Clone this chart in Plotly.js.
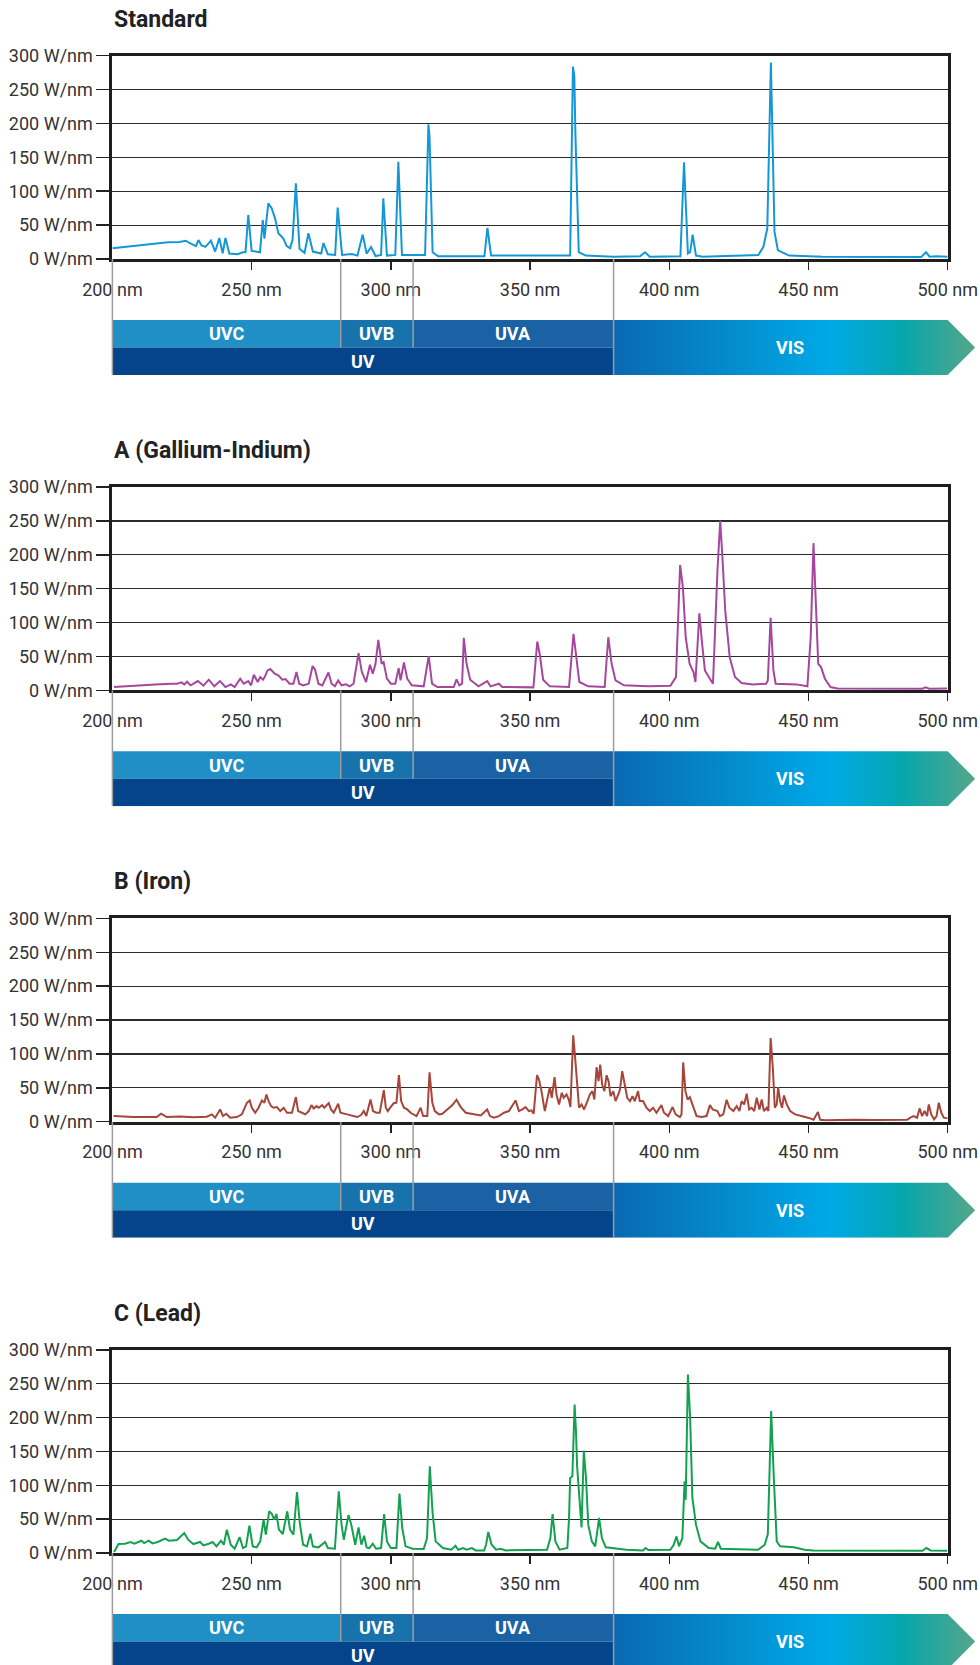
<!DOCTYPE html>
<html>
<head>
<meta charset="utf-8">
<script src="https://cdn.plot.ly/plotly-3.0.1.min.js"></script>
<style>
  html, body { margin: 0; padding: 0; background: #ffffff; }
  #chart { width: 980px; height: 1665px; }
</style>
</head>
<body>
<div id="chart"></div>
<script>
// ---------------- DATA ----------------
const panelTitles = ["Standard", "A (Gallium-Indium)", "B (Iron)", "C (Lead)"];
const xTickVals = [200, 250, 300, 350, 400, 450, 500];
const yTickVals = [0, 50, 100, 150, 200, 250, 300];
const xUnit = " nm";
const yUnit = " W/nm";

const bandNames = ["UVC", "UVB", "UVA"];
const bandEdges = [200, 282, 308, 380];
const uvRange = [200, 380];
const visRange = [380, 500];

const stdNm = [200,205,210,215,220,224,226.4,227.5,230,230.9,232,233.4,235.4,236.9,238.4,239.6,240.6,242,245,246.8,247.8,248.8,250,253,254,254.6,256,257.2,258.4,259.6,261.4,262.6,263.8,264.7,265.9,267.2,269,270.4,272,275,275.8,277.4,280,280.9,282.5,286,288,289.9,291.3,292.9,294.5,296.5,297.3,298.6,301.6,302.7,304,312.3,313.5,313.9,315,317,333.6,334.7,336,364.4,365.4,365.9,366.3,367.5,370,379.9,389.5,391.3,393,404,405.3,406.7,407.5,408.4,409.6,412,432,433.8,435.2,436.5,437.8,439,443,455,490.5,492.2,493.5,496,500];
const stdW  = [16,18,20.5,23,24.6,25,27,24,19,28,20,18,27,11,31,8.3,31,8,7,10,10,65,12,10,57.5,30,82,75,60,38,30,19,16,28,111.7,15,9,38,11,8,23.6,7,6,76,6,7.5,5,36,8,17.7,4.4,6,89.6,5,6,143.6,6,6,198.7,180,10,4,4,46,5,5,284,270,183,10,5,3.5,4,10,3.5,4,142.7,8,10,36,5,3.5,6,18,45,290,40,13,5,3.5,3,10,3.5,4,3.5];

const gaNm = [200.6,207.5,215.4,221.3,223.2,224.8,225.8,226.8,228.1,230.7,232.7,234.6,236.6,238.6,240.6,242.5,243.9,245.9,247.2,248.8,249.8,250.8,252.2,253.1,254.1,254.7,255.7,256.7,258.3,259.6,261.0,262.2,263.6,265.0,266.1,267.1,268.5,270.5,271.9,272.8,274.0,275.4,276.4,277.6,278.7,279.9,281.1,282.3,283.9,285.2,286.6,288.4,289.6,291.1,292.5,293.5,294.5,295.5,296.7,297.4,298.6,300.0,301.6,302.8,303.5,304.7,305.9,307.5,311.8,313.6,314.8,316.7,322.6,323.6,324.6,325.6,326.2,327.2,328.5,331.5,334.6,335.8,338.8,340.0,351.2,352.6,353.5,354.7,357.1,364.0,365.6,366.5,367.7,370.9,376.8,378.1,379.3,380.7,383.7,392.5,400.4,402.4,403.9,404.9,405.9,407.3,408.7,409.4,410.8,411.8,412.8,414.2,415.7,417.3,418.3,419.1,420.1,421.7,423.6,426.0,429.9,434.8,435.4,436.4,437.4,438.2,445.7,449.6,450.8,451.8,452.8,453.5,454.5,455.9,457.9,460.4,490.9,492.1,493.3,499.8];
const gaW  = [4.9,6.9,8.8,9.8,9.8,11.8,8.8,12.7,7.4,13.7,6.9,15.7,5.9,13.7,4.9,8.8,4.9,17.2,9.8,13.7,7.4,23,12.3,19.6,15.7,19.6,29.4,31.4,24.5,22,15.7,16.7,9.8,9.8,27,9.8,7.4,9.8,35.8,30.4,9.8,7.4,15.7,26.5,9.8,5.9,14.7,7.4,8.8,5.9,9.8,54.9,27,12.3,37.7,24.5,39.2,74.5,39.2,41.7,17.2,9.8,9.8,32.8,14.7,41.2,17.2,7.4,5.9,50.5,9.8,4.9,4.9,16.2,7.4,9.8,77.5,39.2,15.7,5.9,13.7,5.9,9.8,4.9,4.4,72,52.9,15.7,5.9,4.9,83.3,49,12.3,5.9,4.9,78.4,39.2,14.7,7.4,5.9,6.9,19.6,184.8,152,78.4,39.2,27,12.3,113.7,68.6,29.4,19.6,9.8,176.5,250,196,117.6,49,19.6,10.8,8.8,9.8,14.7,106.9,29.4,9.8,8.8,5.9,78.4,217.2,112.7,39.2,34.3,17.2,4.9,2.9,2.5,4.4,2.5,2.9];

const feNm = [200.4,207.6,215.9,217.5,219.5,224.3,229.1,233.9,235.7,236.9,238.7,239.7,240.9,242.3,244.7,246.5,248.3,249.3,250.1,251.3,252.5,253.7,254.6,255.3,256.1,257.0,257.9,259.1,260.3,261.5,262.7,264.5,265.9,266.7,268.1,269.3,270.5,271.5,272.3,273.3,274.1,275.3,276.1,277.7,278.5,279.5,281.1,281.9,284.3,286.1,287.9,289.3,290.3,291.2,292.7,293.6,294.8,296.0,297.5,298.2,298.9,299.9,301.1,302.0,302.9,303.7,304.7,305.9,307.1,309.2,310.7,311.6,313.1,313.9,314.9,315.8,317.3,318.5,319.7,320.9,322.1,323.6,325.1,326.9,328.7,330.5,332.3,334.6,335.6,337.0,338.8,340.6,342.4,344.8,346.0,347.2,348.4,349.6,350.5,351.3,352.5,353.2,354.1,355.3,356.1,357.1,357.8,358.8,359.5,360.4,361.4,362.1,363.1,363.9,364.5,365.5,366.1,366.7,367.6,368.5,369.4,370.6,371.5,372.4,373.1,373.9,374.6,375.2,375.9,376.7,377.5,378.2,378.9,379.9,380.7,381.7,382.3,383.1,384.1,384.9,385.9,386.8,387.6,388.8,389.4,390.6,391.8,393.0,394.2,395.4,397.2,398.1,399.6,401.2,402.3,403.8,404.4,405.0,405.8,406.6,407.4,408.4,409.8,411.6,413.4,414.6,415.6,417.3,418.2,419.4,420.6,421.6,423.0,424.2,425.2,426.0,426.9,427.8,428.7,429.6,430.5,431.4,432.4,433.2,434.0,435.0,435.6,436.4,437.2,437.9,438.6,439.1,439.8,440.5,441.2,442.2,443.4,445.2,447.0,448.8,450.6,451.8,453.4,454.2,456.0,466.2,474.6,485.4,486.6,487.8,489.0,489.9,490.8,491.7,492.6,493.2,494.1,495.1,496.0,496.8,497.7,498.6,500];
const feW  = [8.3,6.9,6.9,11.8,6.9,7.8,6.4,7.4,10.8,5.9,18.1,8.3,11.8,5.9,6.9,10.8,27.9,31.4,20.6,13.2,20.6,31.4,27.9,40.2,30.4,23,20.6,21.6,15.7,20.6,13.2,13.2,36.3,15.7,13.2,10.8,15.7,24.5,19.6,23,20.6,24.5,20.6,27.5,18.1,13.2,26.5,13.2,10.8,8.3,6.9,9.8,15.7,8.3,32.8,15.7,13.2,13.2,46.6,20.6,15.7,21.6,27.5,27.9,68.6,30.4,20.6,18.1,13.2,8.3,20.6,8.3,8.3,73,27.9,15.7,10.8,11.8,15.7,20.6,24.5,32.4,21.6,13.2,11.8,10.8,9.3,18.1,8.3,5.9,8.3,13.2,15.7,31.4,15.7,18.1,21.6,15.7,16.7,11.8,68.6,62.3,45.1,15.7,30.4,51,35.3,65.7,40.2,25.5,42.6,35.3,40.2,32.8,21.6,127.5,99,67.2,20.6,25.5,18.1,30.4,40.2,45.1,32.8,80.4,59.8,84.3,54.9,45.1,68.6,59.8,37.7,45.1,30.4,40.2,47.5,74.5,54.9,35.3,30.4,37.7,30.4,45.1,30.4,30.4,20.6,15.7,20.6,13.2,24.5,13.2,8.3,21.6,10.8,6.9,10.8,87.7,45.1,32.8,36.3,25.5,8.3,6.9,8.3,24.5,18.1,15.7,8.3,10.8,32.4,20.6,15.7,23,15.7,30.4,25.5,41.2,18.1,20.6,15.7,35.3,18.1,32.8,15.7,20.6,15.7,123.5,79.4,20.6,25.5,51,30.4,20.6,38.7,25.5,15.7,10.8,8.3,6.9,4.9,2.9,14.2,2.9,2,2.9,2.5,2.9,5.9,8.3,5.9,19.6,8.3,15.7,8.3,25.5,10.8,3.4,8.3,27.9,13.2,5.9,4.9];

const pbNm = [200.6,201.0,202.2,204.5,206.5,207.9,210.4,211.4,213.0,214.4,216.3,218.9,220.3,223.2,225.8,227.2,229.1,231.5,232.7,234.6,236.0,237.4,239.0,240.0,241.1,242.5,243.9,245.7,246.9,248.0,249.2,250.4,251.8,253.1,254.3,255.1,256.3,257.3,258.1,258.9,259.8,261.2,262.8,263.8,265.0,266.3,267.3,268.5,269.9,271.1,272.0,274.0,276.4,277.4,279.9,281.3,282.3,283.1,283.9,284.8,285.8,287.2,288.4,289.4,290.4,291.3,292.3,293.5,294.7,296.5,297.6,298.6,300.0,302.0,303.1,304.1,305.3,307.9,311.8,313.0,314.0,315.0,316.1,318.7,321.7,323.2,324.2,326.0,327.2,329.1,330.5,333.5,334.2,335.0,336.2,337.8,339.4,341.3,356.1,357.3,358.1,359.1,360.6,363.4,364.0,364.4,365.2,366.0,366.5,366.9,367.9,368.5,369.3,370.1,370.9,372.2,373.4,374.8,375.8,377.2,384.6,390.6,391.5,392.5,400.4,401.6,402.6,403.5,404.7,405.5,405.9,406.7,407.5,408.3,409.6,411.2,414.2,416.5,417.5,418.5,431.9,434.3,435.4,436.6,437.6,438.6,439.8,444.7,448.6,451.6,491.0,492.3,493.9,499.8];
const pbW  = [1.5,4.9,13.3,13.8,16.3,13.8,18.2,14.8,18.2,14.3,16.3,21.2,18.2,19.2,29.6,19.7,13.3,16.3,11.3,13.8,16.3,9.9,18.2,12.3,34.5,12.3,6.4,23.6,7.4,9.9,40.4,9.9,8.4,17.2,49.3,27.1,61.6,57.6,49.3,57.6,34.5,28.1,61.6,34.5,27.1,90.1,44.3,12.3,9.9,28.6,9.9,8.4,16.3,7.4,6.4,91.1,41.9,19.7,34.5,56.2,41.9,12.3,37.9,12.3,25.6,8.4,7.4,13.8,6.4,7.4,57.6,17.2,7.4,7.4,87.7,36.9,9.9,6.4,5.9,22,128.1,59.1,17.2,7.4,4.9,10.8,4.9,7.4,4.9,7.4,3.9,3.9,12.3,31,12.3,4.9,6.4,3.9,4.9,22,57.6,17.2,4.9,7.4,51.7,110.8,113.3,219.2,179.8,128.1,71.4,37.9,151.2,110.8,41.9,17.2,9.9,51.7,22.2,8.4,4.9,3.9,7.4,4.4,4.9,12.3,24.6,9.9,22.2,105.9,78.8,263.5,199.5,81.3,41.9,17.2,7.4,6.4,16.3,6.4,4.9,12.3,28.1,209.4,105.9,17.2,9.9,8.4,4.9,3.9,3.4,7.4,3.9,3.4];

const seriesNm = [stdNm, gaNm, feNm, pbNm];
const seriesW  = [stdW, gaW, feW, pbW];
const lineColors = ["#1497d6", "#a6479d", "#a6463a", "#13a150"];

// ---------------- LAYOUT (pixels) ----------------
const W = 980, H = 1665;
const PLOT_L = 112.4, PLOT_R = 947.7;
const TOP0 = 55.7, PANEL_H = 203.3, STEP = 431.35;
const TITLE_OFF = 36.7;
const BAND_GAP = 61, BAND_ROW = 27.5;
const BAND_L = 104, TIP_PX = 27.5;
const FONT = "Roboto, 'Open Sans', sans-serif";

const bandColors = ["#1f8fc6", "#1873ad", "#1b62a4"];
const uvColor = "#03448a";
const visScale = [[0, "#0a69b1"], [0.3, "#0389cb"], [0.6, "#00a9e7"], [0.8, "#06a6ad"], [1, "#56a689"]];

const pxPerNm = (PLOT_R - PLOT_L) / (xTickVals[xTickVals.length - 1] - xTickVals[0]);
const xMin = xTickVals[0], xMax = xTickVals[xTickVals.length - 1];
const yMin = yTickVals[0], yMax = yTickVals[yTickVals.length - 1];

const traces = [];
const layout = {
  width: W, height: H,
  margin: {l: 0, r: 0, t: 0, b: 0, pad: 0},
  paper_bgcolor: "#ffffff",
  plot_bgcolor: "rgba(0,0,0,0)",
  showlegend: false,
  hovermode: false,
  annotations: [],
  font: {family: FONT}
};

for (let i = 0; i < 4; i++) {
  const n = i + 1;
  const sx = n === 1 ? "" : String(n);
  const top = TOP0 + i * STEP;
  const bot = top + PANEL_H;

  // main axes
  layout["xaxis" + sx] = {
    domain: [PLOT_L / W, PLOT_R / W], anchor: "y" + sx,
    range: [xMin, xMax], tickmode: "array", tickvals: xTickVals,
    ticktext: xTickVals.map(v => v + xUnit),
    ticks: "outside", ticklen: 8, tickwidth: 1.5, tickcolor: "#222",
    showline: true, mirror: true, linewidth: 3, linecolor: "#1e1e1e",
    showgrid: false, zeroline: false, fixedrange: true,
    tickfont: {family: FONT, size: 18, color: "#333"},
    ticklabelstandoff: 4
  };
  layout["yaxis" + sx] = {
    domain: [1 - bot / H, 1 - top / H], anchor: "x" + sx,
    range: [yMin, yMax], tickmode: "array", tickvals: yTickVals,
    ticktext: yTickVals.map(v => v + yUnit),
    ticks: "outside", ticklen: 13, tickwidth: 1.5, tickcolor: "#222",
    showline: true, mirror: true, linewidth: 3, linecolor: "#1e1e1e",
    showgrid: true, gridcolor: "#2b2b2b", gridwidth: 1.2,
    zeroline: false, fixedrange: true,
    tickfont: {family: FONT, size: 18, color: "#333"}
  };
  // overlay axis for inner half of the x ticks
  layout["xaxis" + (4 + n)] = {
    overlaying: "x" + sx, anchor: "y" + sx,
    range: [xMin, xMax], tickmode: "array", tickvals: xTickVals,
    ticks: "inside", ticklen: 8, tickwidth: 1.5, tickcolor: "#222",
    showticklabels: false, showgrid: false, zeroline: false, showline: false
  };

  // spectrum
  traces.push({
    type: "scatter", mode: "lines",
    x: seriesNm[i], y: seriesW[i],
    xaxis: "x" + sx, yaxis: "y" + sx,
    line: {color: lineColors[i], width: 2},
    hoverinfo: "skip"
  });

  // band axes
  const bandTopPx = bot;
  const bandBotFull = bot + BAND_GAP + 2 * BAND_ROW;
  const bandBotPx = Math.min(bandBotFull, H);
  const bxId = "x" + (8 + n), byId = "y" + (4 + n);
  const bandR = PLOT_R + TIP_PX + 2;
  layout["xaxis" + (8 + n)] = {
    domain: [BAND_L / W, bandR / W], anchor: byId,
    range: [xMin - (PLOT_L - BAND_L) / pxPerNm, xMax + (bandR - PLOT_R) / pxPerNm],
    visible: false, fixedrange: true
  };
  layout["yaxis" + (4 + n)] = {
    domain: [1 - bandBotPx / H, 1 - bandTopPx / H], anchor: bxId,
    range: [(bandBotFull - bandBotPx) / BAND_ROW, (BAND_GAP + 2 * BAND_ROW) / BAND_ROW],
    visible: false, fixedrange: true
  };
  const yTopBand = (BAND_GAP + 2 * BAND_ROW) / BAND_ROW;

  // UVC / UVB / UVA
  for (let b = 0; b < bandNames.length; b++) {
    const a = bandEdges[b], c = bandEdges[b + 1];
    traces.push({
      type: "scatter", mode: "lines", x: [a, c, c, a, a], y: [1, 1, 2, 2, 1],
      xaxis: bxId, yaxis: byId, fill: "toself", fillcolor: bandColors[b],
      line: {width: 0, color: bandColors[b]}, hoverinfo: "skip"
    });
    layout.annotations.push({
      xref: bxId, yref: byId, x: (a + c) / 2, y: 1.5, text: "<b>" + bandNames[b] + "</b>",
      showarrow: false, font: {family: FONT, size: 18, color: "#ffffff"}
    });
  }
  // UV
  traces.push({
    type: "scatter", mode: "lines",
    x: [uvRange[0], uvRange[1], uvRange[1], uvRange[0], uvRange[0]], y: [0, 0, 1, 1, 0],
    xaxis: bxId, yaxis: byId, fill: "toself", fillcolor: uvColor,
    line: {width: 0, color: uvColor}, hoverinfo: "skip"
  });
  layout.annotations.push({
    xref: bxId, yref: byId, x: (uvRange[0] + uvRange[1]) / 2, y: 0.5, text: "<b>UV</b>",
    showarrow: false, font: {family: FONT, size: 18, color: "#ffffff"}
  });
  // VIS arrow
  const tip = visRange[1] + TIP_PX / pxPerNm;
  traces.push({
    type: "scatter", mode: "lines",
    x: [visRange[0], visRange[1], tip, visRange[1], visRange[0], visRange[0]],
    y: [2, 2, 1, 0, 0, 2],
    xaxis: bxId, yaxis: byId, fill: "toself",
    fillgradient: {type: "horizontal", colorscale: visScale},
    fillcolor: "#00a9e7",
    line: {width: 0, color: "rgba(0,0,0,0)"}, hoverinfo: "skip"
  });
  layout.annotations.push({
    xref: bxId, yref: byId, x: (visRange[0] + tip) / 2 - 1.5, y: 1, text: "<b>VIS</b>",
    showarrow: false, font: {family: FONT, size: 18, color: "#ffffff"}
  });
  // gray divider lines
  const gx = [], gy = [];
  [bandEdges[0], bandEdges[1], bandEdges[2], bandEdges[3]].forEach((e, k) => {
    const low = (k === 0 || k === 3) ? (bandBotFull - bandBotPx) / BAND_ROW : 1;
    gx.push(e, e, null); gy.push(yTopBand, low, null);
  });
  traces.push({
    type: "scatter", mode: "lines", x: gx, y: gy,
    xaxis: bxId, yaxis: byId, line: {color: "#9c9c9c", width: 1.5}, hoverinfo: "skip"
  });

  // title
  layout.annotations.push({
    xref: "paper", yref: "paper", x: PLOT_L / W, y: 1 - (top - TITLE_OFF) / H,
    xanchor: "left", yanchor: "middle", text: "<b>" + panelTitles[i] + "</b>",
    showarrow: false, font: {family: FONT, size: 23, color: "#222"}
  });
}

Plotly.newPlot("chart", traces, layout, {staticPlot: true, displayModeBar: false});
</script>
</body>
</html>
